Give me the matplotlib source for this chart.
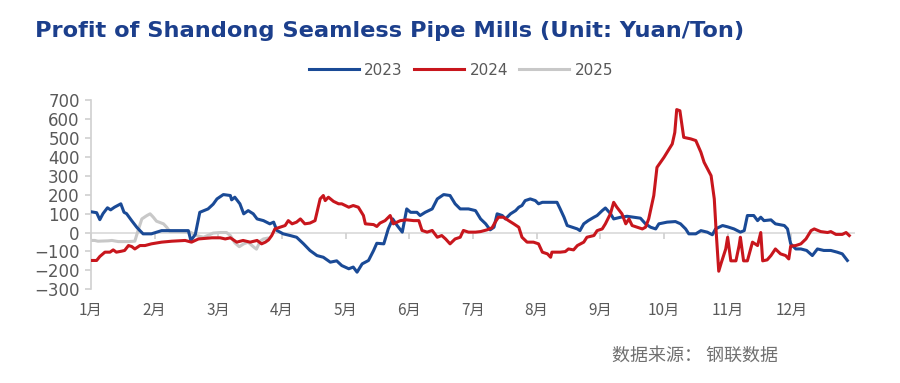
import matplotlib.pyplot as plt

# x = position in months (0 = 1 Jan), y = profit (yuan/ton)
month_labels = ['1月', '2月', '3月', '4月', '5月', '6月', '7月', '8月', '9月', '10月', '11月', '12月']

m2023 = [0, 0.09, 0.14, 0.19, 0.26, 0.31, 0.37, 0.47, 0.52, 0.56, 0.64, 0.72, 0.77, 0.82, 0.95, 1.11,
         1.53, 1.57, 1.64, 1.71, 1.84, 1.92, 1.98, 2.08, 2.19, 2.21, 2.26, 2.34, 2.40, 2.47, 2.55, 2.61,
         2.71, 2.81, 2.87, 2.92, 3.02, 3.13, 3.23, 3.34, 3.44, 3.55, 3.65, 3.76, 3.86, 3.94, 4.05, 4.12,
         4.18, 4.26, 4.36, 4.44, 4.49, 4.60, 4.67, 4.74, 4.81, 4.89, 4.96, 5.02, 5.12, 5.17, 5.25, 5.36,
         5.44, 5.54, 5.64, 5.72, 5.80, 5.93, 6.04, 6.12, 6.20, 6.27, 6.33, 6.38, 6.46, 6.51, 6.59, 6.67,
         6.72, 6.77, 6.82, 6.90, 6.98, 7.03, 7.09, 7.24, 7.32, 7.37, 7.43, 7.48, 7.56, 7.64, 7.68, 7.74,
         7.81, 7.90, 7.95, 8.03, 8.08, 8.16, 8.21, 8.32, 8.42, 8.53, 8.63, 8.71, 8.79, 8.87, 8.92, 9.05,
         9.18, 9.26, 9.34, 9.39, 9.50, 9.58, 9.68, 9.76, 9.81, 9.92, 10.0, 10.1, 10.2, 10.26, 10.31, 10.41,
         10.47, 10.52, 10.57, 10.68, 10.75, 10.89, 10.94, 10.99, 11.07, 11.15, 11.24, 11.33, 11.41, 11.51,
         11.62, 11.72, 11.80, 11.88]
v2023 = [110, 105, 68, 100, 131, 120, 134, 152, 107, 100, 63, 28, 10, -7, -7, 10,
         10, -42, -10, 107, 125, 150, 178, 201, 196, 173, 187, 152, 99, 116, 99, 72,
         63, 46, 55, 11, -7, -16, -25, -60, -95, -122, -131, -157, -150, -175, -192, -183,
         -210, -166, -148, -95, -57, -60, 19, 72, 37, 2, 125, 107, 107, 90, 107, 125,
         178, 201, 196, 152, 125, 125, 116, 72, 46, 14, 28, 99, 90, 72, 99, 116,
         134, 143, 169, 178, 169, 152, 160, 160, 160, 125, 81, 37, 28, 19, 10, 46,
         63, 81, 90, 116, 130, 100, 72, 81, 86, 81, 76, 46, 28, 19, 46, 55,
         58, 46, 19, -7, -7, 10, 2, -12, 19, 37, 30, 19, 2, 10, 90, 90,
         63, 81, 63, 67, 46, 37, 19, -60, -87, -87, -95, -122, -87, -95,
         -95, -104, -113, -148]

m2024 = [0, 0.09, 0.14, 0.22, 0.30, 0.35, 0.40, 0.48, 0.53, 0.59, 0.64, 0.69, 0.77, 0.85, 0.95, 1.11,
         1.27, 1.48, 1.58, 1.69, 1.90, 2.03, 2.11, 2.19, 2.29, 2.39, 2.50, 2.61, 2.68, 2.74, 2.79, 2.84,
         2.89, 2.97, 3.05, 3.10, 3.16, 3.23, 3.29, 3.36, 3.44, 3.52, 3.60, 3.65, 3.68, 3.73, 3.81, 3.89,
         3.94, 4.05, 4.12, 4.20, 4.28, 4.31, 4.44, 4.49, 4.54, 4.62, 4.70, 4.75, 4.86, 4.96, 5.07, 5.15,
         5.20, 5.28, 5.36, 5.44, 5.51, 5.57, 5.64, 5.72, 5.80, 5.85, 5.93, 6.04, 6.12, 6.22, 6.30, 6.35,
         6.40, 6.48, 6.56, 6.64, 6.72, 6.77, 6.85, 6.95, 7.03, 7.09, 7.17, 7.22, 7.24, 7.37, 7.45, 7.50,
         7.58, 7.64, 7.74, 7.79, 7.90, 7.95, 8.03, 8.08, 8.16, 8.21, 8.26, 8.34, 8.40, 8.45, 8.50, 8.58,
         8.66, 8.71, 8.76, 8.84, 8.89, 9.0, 9.13, 9.17, 9.20, 9.25, 9.31, 9.42, 9.50, 9.58, 9.63, 9.74,
         9.79, 9.82, 9.86, 9.90, 9.97, 10.0, 10.05, 10.13, 10.18, 10.20, 10.25, 10.31, 10.36, 10.39, 10.47,
         10.49, 10.52, 10.55, 10.62, 10.68, 10.75, 10.83, 10.91, 10.96, 10.99, 11.07, 11.15, 11.23, 11.31,
         11.36, 11.46, 11.57, 11.62, 11.70, 11.80, 11.86, 11.91]
v2024 = [-148, -148, -127, -104, -104, -92, -104, -99, -95, -69, -74, -87, -69, -69, -60, -51,
         -46, -42, -51, -34, -28, -28, -34, -28, -51, -42, -51, -42, -60, -51, -39, -16,
         19, 28, 37, 63, 46, 55, 72, 46, 50, 63, 178, 196, 169, 187, 165, 152,
         152, 134, 143, 134, 90, 46, 42, 32, 50, 63, 90, 46, 63, 67, 63, 63,
         11, 2, 11, -25, -16, -34, -60, -34, -25, 11, 2, 2, 5, 14, 25, 55,
         81, 81, 63, 46, 28, -25, -51, -51, -60, -104, -113, -131, -104, -104, -101, -87,
         -92, -69, -51, -25, -16, 10, 19, 46, 100, 160, 134, 99, 46, 72, 37, 28,
         19, 28, 72, 196, 345, 398, 469, 530, 651, 645, 504, 496, 487, 425, 372, 301,
         178, 2, -205, -160, -87, -25, -150, -150, -69, -25, -150, -150, -87, -51, -69,
         -42, 0, -150, -145, -122, -87, -113, -122, -140, -72, -69, -60, -34, 10,
         19, 5, 0, 5, -10, -10, 0, -16]

m2025 = [0, 0.06, 0.11, 0.19, 0.27, 0.33, 0.43, 0.59, 0.69, 0.74, 0.80, 0.88, 0.93, 0.98, 1.03, 1.14,
         1.19, 1.24, 1.35, 1.56, 1.66, 1.77, 1.92, 2.03, 2.13, 2.19, 2.26, 2.33, 2.40, 2.47, 2.55, 2.60,
         2.66, 2.71, 2.77]
v2025 = [-42, -42, -46, -45, -44, -42, -48, -48, -46, 10, 72, 90, 99, 81, 60, 46,
         28, 5, 5, 2, -16, -25, -3, 0, 0, -16, -55, -75, -60, -51, -75, -88,
         -45, -34, -30]

blue = '#1a4a96'
red = '#c8161d'
grey = '#c8c8c8'
text_grey = '#595959'

fig = plt.figure(figsize=(9, 3.83), dpi=100)
ax = fig.add_axes([0.101, 0.245, 0.849, 0.493])

ax.axhline(0, color='#d9d9d9', linewidth=1.2, zorder=1)
ax.plot(m2023, v2023, color=blue, linewidth=2.2, label='2023', zorder=3)
ax.plot(m2024, v2024, color=red, linewidth=2.2, label='2024', zorder=4)
ax.plot(m2025, v2025, color=grey, linewidth=2.2, label='2025', zorder=2)

ax.set_xlim(0, 12)
ax.set_ylim(-300, 700)
ax.set_yticks(range(-300, 701, 100))

for s in ['top', 'right']:
    ax.spines[s].set_visible(False)
ax.spines['left'].set_color('#d0d0d0')
ax.spines['left'].set_linewidth(1.2)
ax.spines['bottom'].set_position(('data', 0))
ax.spines['bottom'].set_visible(False)

ax.set_xticks(range(12))
ax.tick_params(axis='x', direction='out', length=4, color='#d0d0d0', width=1.2, labelbottom=False)
ax.tick_params(axis='y', direction='out', length=4, color='#d0d0d0', width=1.2,
               labelsize=12, labelcolor=text_grey, pad=4)
for lab in ax.get_yticklabels():
    lab.set_family('DejaVu Sans')

sec = ax.secondary_xaxis('bottom')
sec.set_xticks(range(12))
sec.set_xticklabels(month_labels, family=['Noto Sans CJK SC', 'DejaVu Sans'], fontsize=11,
                    color=text_grey)
sec.tick_params(length=0, pad=9)
sec.spines['bottom'].set_visible(False)

fig.text(0.039, 0.92, 'Profit of Shandong Seamless Pipe Mills (Unit: Yuan/Ton)',
         family='DejaVu Sans', fontweight='bold', fontsize=16.2, color='#1c3f8c', va='center')

ax.legend(loc='center', bbox_to_anchor=(0.484, 1.16), ncol=3, frameon=False,
          handlelength=3.3, handletextpad=0.35, columnspacing=0.7,
          prop={'family': 'DejaVu Sans', 'size': 11}, labelcolor=text_grey)

fig.text(0.68, 0.072, '数据来源： 钢联数据', family=['Noto Sans CJK SC'], fontsize=13,
         color='#707070', va='center')

fig.savefig('out.png', dpi=100)
